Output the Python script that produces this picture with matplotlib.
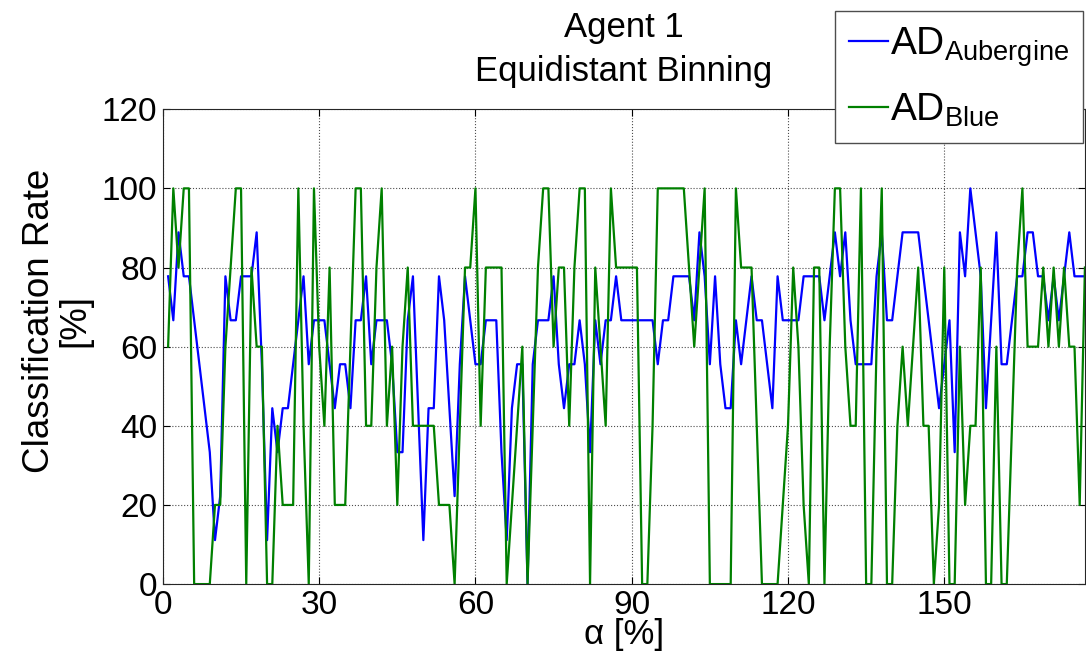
import numpy as np
import matplotlib.pyplot as plt

plt.rcParams['font.family'] = ['Liberation Sans', 'DejaVu Sans']
plt.rcParams['mathtext.fontset'] = 'custom'
plt.rcParams['mathtext.rm'] = 'Liberation Sans'
plt.rcParams['mathtext.it'] = 'Liberation Sans'

# alpha steps (one sample per step)
alpha = list(range(1, 178))

# correct classifications out of 9 (Aubergine) and out of 5 (Blue)
aub_hits = [7, 6, 8, 7, 7, 6, 5, 4, 3, 1,
            2, 7, 6, 6, 7, 7, 7, 8, 5, 1,
            4, 3, 4, 4, 5, 6, 7, 5, 6, 6,
            6, 5, 4, 5, 5, 4, 6, 6, 7, 5,
            6, 6, 6, 5, 3, 3, 6, 7, 4, 1,
            4, 4, 7, 6, 4, 2, 5, 7, 6, 5,
            5, 6, 6, 6, 3, 1, 4, 5, 5, 0,
            5, 6, 6, 6, 7, 5, 4, 5, 5, 6,
            5, 3, 6, 5, 6, 6, 7, 6, 6, 6,
            6, 6, 6, 6, 5, 6, 6, 7, 7, 7,
            7, 6, 8, 7, 5, 7, 5, 4, 4, 6,
            5, 6, 7, 6, 6, 5, 4, 7, 6, 6,
            6, 6, 7, 7, 7, 7, 6, 7, 8, 7,
            8, 6, 5, 5, 5, 5, 7, 8, 6, 6,
            7, 8, 8, 8, 8, 7, 6, 5, 4, 5,
            6, 3, 8, 7, 9, 8, 7, 4, 6, 8,
            5, 5, 6, 7, 7, 8, 8, 7, 7, 6,
            7, 6, 7, 8, 7, 7, 7]
blue_hits = [3, 5, 4, 5, 5, 0, 0, 0, 0, 1,
             1, 3, 4, 5, 5, 0, 4, 3, 3, 0,
             0, 2, 1, 1, 1, 5, 2, 0, 5, 3,
             2, 4, 1, 1, 1, 3, 5, 5, 2, 2,
             4, 5, 2, 3, 1, 3, 4, 2, 2, 2,
             2, 2, 1, 1, 1, 0, 2, 4, 4, 5,
             2, 4, 4, 4, 4, 0, 1, 2, 3, 0,
             2, 4, 5, 5, 3, 4, 4, 2, 4, 5,
             5, 0, 4, 3, 2, 5, 4, 4, 4, 4,
             4, 0, 0, 2, 5, 5, 5, 5, 5, 5,
             4, 3, 4, 5, 0, 0, 0, 0, 0, 5,
             4, 4, 4, 2, 0, 0, 0, 0, 1, 2,
             4, 3, 1, 0, 4, 4, 0, 3, 5, 5,
             3, 2, 2, 5, 0, 0, 3, 5, 0, 0,
             2, 3, 2, 3, 4, 2, 2, 0, 1, 4,
             0, 0, 3, 1, 2, 2, 4, 0, 0, 3,
             0, 0, 2, 4, 5, 3, 3, 3, 4, 3,
             4, 3, 4, 3, 3, 1, 4]

aub_rate = np.array(aub_hits) / 9 * 100
blue_rate = np.array(blue_hits) / 5 * 100

fig = plt.figure(figsize=(10.86, 6.66), dpi=100)
ax = fig.add_axes([0.150, 0.123, 0.849, 0.713])

ax.plot(alpha, aub_rate, color=(0, 0, 1), lw=1.6, label=r'AD$_{\mathrm{Aubergine}}$')
ax.plot(alpha, blue_rate, color=(0, 0.5, 0), lw=1.6, label=r'AD$_{\mathrm{Blue}}$')

ax.set_xlim(0, alpha[-1])
ax.set_ylim(0, 120)
ax.set_xticks(np.arange(0, 151, 30))
ax.set_yticks(np.arange(0, 121, 20))
ax.tick_params(direction='in', labelsize=24, length=5, top=True, right=True, pad=4)
ax.grid(True, linestyle=':', color='0.3', linewidth=0.8)
for s in ax.spines.values():
    s.set_color('0.15')

ax.set_xlabel('α [%]', fontsize=25, labelpad=-2)
ax.set_ylabel('Classification Rate\n[%]', fontsize=26.5, linespacing=1.0)
ax.yaxis.set_label_coords(-0.077, 0.555)
ax.set_title('Agent 1\nEquidistant Binning', fontsize=25, linespacing=1.45, pad=20)

fig.legend(loc='upper right', bbox_to_anchor=(0.997, 0.983), fontsize=28,
           frameon=True, fancybox=False, edgecolor='0.3', framealpha=1,
           handlelength=1.0, handletextpad=0.05, borderpad=0.35, labelspacing=0.6,
           borderaxespad=0)

fig.savefig('out.png', dpi=100)
